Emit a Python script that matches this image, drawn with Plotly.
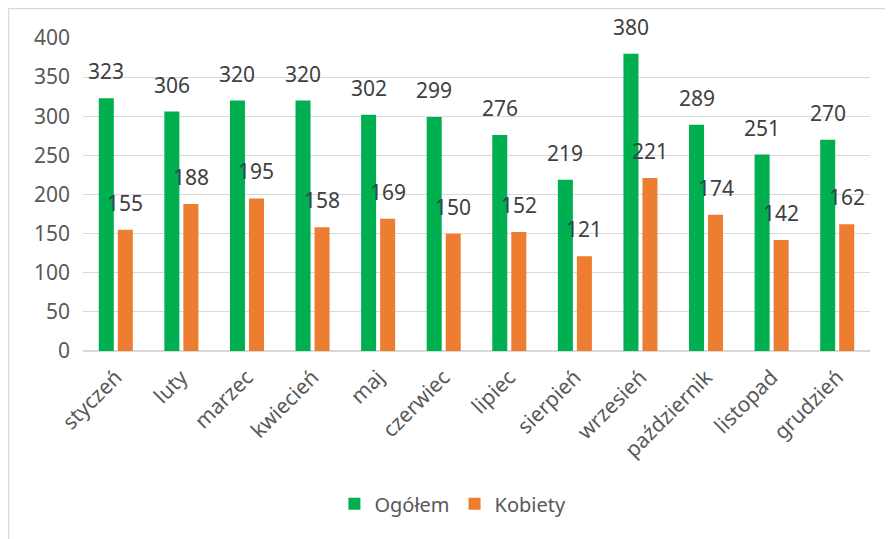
import plotly.graph_objects as go

# miesiące i wartości
months = ["styczeń", "luty", "marzec", "kwiecień", "maj", "czerwiec",
          "lipiec", "sierpień", "wrzesień", "październik", "listopad", "grudzień"]
ogolem = [323, 306, 320, 320, 302, 299, 276, 219, 380, 289, 251, 270]
kobiety = [155, 188, 195, 158, 169, 150, 152, 121, 221, 174, 142, 162]
y_ticks = [0, 50, 100, 150, 200, 250, 300, 350, 400]

GREEN = "#00b050"
ORANGE = "#ed7d31"
FONT = "Noto Sans"

fig = go.Figure()
fig.add_trace(go.Bar(x=months, y=ogolem, name="Ogółem", marker_color=GREEN,
                     marker_line=dict(width=0)))
fig.add_trace(go.Bar(x=months, y=kobiety, name="Kobiety", marker_color=ORANGE,
                     marker_line=dict(width=0)))

# etykiety danych nad słupkami (jak w Excelu, nieco wyżej niż standard)
for m, v in zip(months, ogolem):
    fig.add_annotation(x=m, y=v, text=str(v), showarrow=False, xshift=-9.5,
                       yanchor="bottom", yshift=11,
                       font=dict(family=FONT, size=21, color="#404040"))
for m, v in zip(months, kobiety):
    fig.add_annotation(x=m, y=v, text=str(v), showarrow=False, xshift=9.5,
                       yanchor="bottom", yshift=11,
                       font=dict(family=FONT, size=21, color="#404040"))

# ramka obszaru wykresu (przycięta z prawej i od dołu jak w oryginale)
fig.add_shape(type="rect", xref="paper", yref="paper",
              x0=-0.0947, x1=1.05, y0=-0.7, y1=1.094,
              line=dict(color="#d9d9d9", width=1.5), fillcolor="rgba(0,0,0,0)",
              layer="below")

# strona ma 8px marginesu body, więc figura jest o 8px mniejsza
fig.update_layout(
    width=885, height=531,
    margin=dict(l=75, r=23, t=30, b=188, autoexpand=False),
    plot_bgcolor="white", paper_bgcolor="white",
    barmode="group", bargap=0.42, bargroupgap=0.21,
    font=dict(family=FONT, size=20, color="#595959"),
    showlegend=True,
    legend=dict(orientation="h", x=0.47, xanchor="center", y=-0.426, yanchor="top",
                font=dict(family=FONT, size=20, color="#595959"),
                itemwidth=30, traceorder="normal"),
    xaxis=dict(tickangle=-45, showgrid=False, showline=False, ticks="",
               automargin=False, ticklabelstandoff=9,
               tickfont=dict(family=FONT, size=21, color="#595959")),
    yaxis=dict(range=[0, 400], tickvals=y_ticks, showgrid=True,
               gridcolor="#d9d9d9", gridwidth=1, zeroline=True,
               zerolinecolor="#d9d9d9", zerolinewidth=1.5, ticks="",
               ticklabelstandoff=12, automargin=False,
               tickfont=dict(family=FONT, size=21, color="#595959")),
)

fig.write_html("out.html")
